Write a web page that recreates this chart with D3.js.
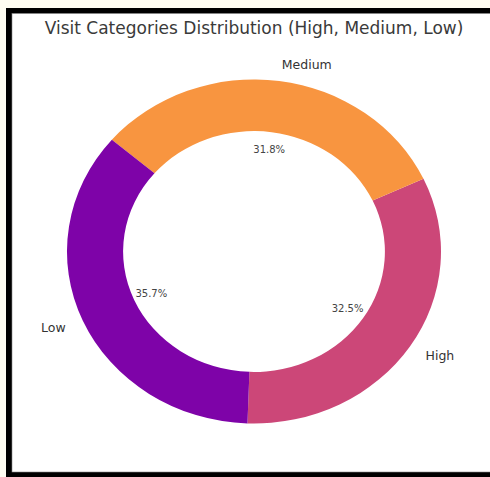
<!DOCTYPE html>
<html>
<head>
<meta charset="utf-8">
<script src="https://cdn.jsdelivr.net/npm/d3@7"></script>
<style>
    body { margin: 0; background: #fffdf2; }
    svg { display: block; }
    text { font-family: "DejaVu Sans", sans-serif; }
</style>
</head>
<body>
<div id="chart"></div>
<script>
const categories = ["High", "Medium", "Low"];
const shares = [32.5, 31.8, 35.7];
const colors = ["#cc4778", "#f89540", "#7e03a8"];

const WIDTH = 490;
const HEIGHT = 477;

// the picture is a bit wider than tall, so the donut is an ellipse
const CX = 254;
const CY = 251.5;
const RY = 172;
const SX = 187 / 172;
const INNER = 0.7;
const TURN = 2 * Math.PI / 180;

const svg = d3.select("#chart")
    .append("svg")
    .attr("width", WIDTH)
    .attr("height", HEIGHT);

/* FRAME */

svg.append("rect")
    .attr("width", WIDTH)
    .attr("height", HEIGHT)
    .attr("fill", "#fffdf2");

svg.append("rect")
    .attr("x", 6)
    .attr("y", 8)
    .attr("width", WIDTH)
    .attr("height", HEIGHT)
    .attr("fill", "#000");

svg.append("rect")
    .attr("x", 12)
    .attr("y", 13.5)
    .attr("width", WIDTH)
    .attr("height", 458.5)
    .attr("fill", "#fff")
    .attr("stroke", "#888")
    .attr("stroke-width", 0.6);

svg.append("text")
    .attr("x", 254)
    .attr("y", 28)
    .attr("text-anchor", "middle")
    .attr("dominant-baseline", "central")
    .attr("font-size", 17)
    .attr("fill", "#3a3a3a")
    .text("Visit Categories Distribution (High, Medium, Low)");

/* DONUT */

// starts at the bottom and runs counter clockwise, like matplotlib startangle=-90
const pie = d3.pie()
    .sort(null)
    .value(d => d)
    .startAngle(Math.PI + TURN)
    .endAngle(-Math.PI + TURN);

const slices = pie(shares);

const arc = d3.arc()
    .innerRadius(RY * INNER)
    .outerRadius(RY);

const wedges = svg.append("g")
    .attr("transform", `translate(${CX}, ${CY}) scale(${SX}, 1)`);

wedges.selectAll("path")
    .data(slices)
    .enter()
    .append("path")
    .attr("d", arc)
    .attr("fill", (d, i) => colors[i]);

const labels = svg.append("g")
    .attr("transform", `translate(${CX}, ${CY})`);

const pos = function (d, r) {
    const a = (d.startAngle + d.endAngle) / 2;
    return [Math.sin(a) * r * RY * SX, -Math.cos(a) * r * RY];
};

labels.selectAll(".name")
    .data(slices)
    .enter()
    .append("text")
    .attr("class", "name")
    .attr("x", d => pos(d, 1.1)[0])
    .attr("y", d => pos(d, 1.1)[1])
    .attr("text-anchor", d => pos(d, 1.1)[0] > 0 ? "start" : "end")
    .attr("dominant-baseline", "central")
    .attr("font-size", 12.5)
    .attr("fill", "#333")
    .text((d, i) => categories[i]);

labels.selectAll(".pct")
    .data(slices)
    .enter()
    .append("text")
    .attr("class", "pct")
    .attr("x", d => pos(d, 0.6)[0])
    .attr("y", d => pos(d, 0.6)[1])
    .attr("text-anchor", "middle")
    .attr("dominant-baseline", "central")
    .attr("font-size", 10)
    .attr("fill", "#444")
    .text(d => d.data.toFixed(1) + "%");
</script>
</body>
</html>
